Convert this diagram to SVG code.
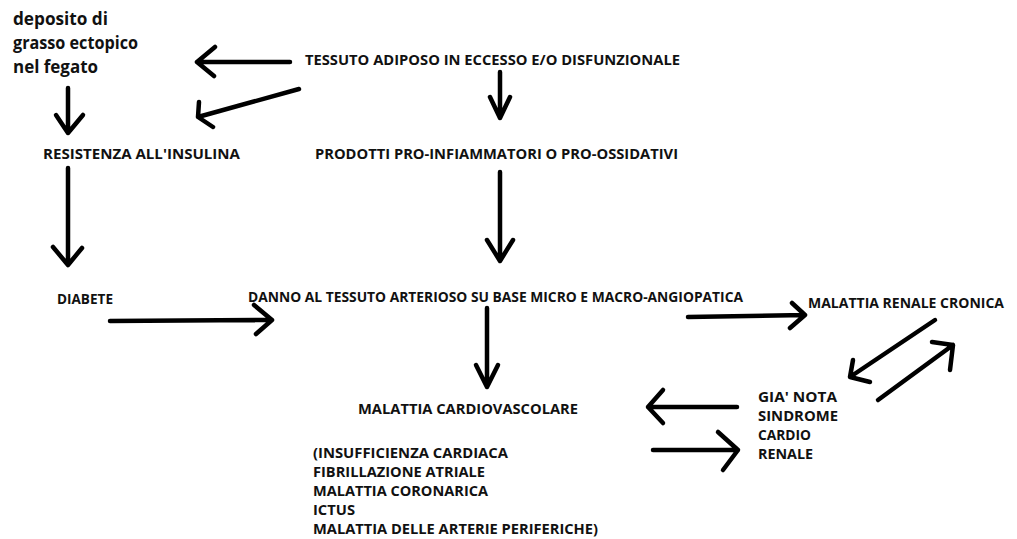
<svg xmlns="http://www.w3.org/2000/svg" width="1017" height="539" viewBox="0 0 1017 539">
<style>
.t{font-family:"Open Sans","Liberation Sans",sans-serif;font-weight:bold;font-size:15px;fill:#111}
.s{font-size:17px}
.a{fill:none;stroke:#000;stroke-width:4.5;stroke-linecap:round;stroke-linejoin:round}
</style>
<rect width="1017" height="539" fill="#fff"/>
<g id="deposito">
<text class="t s" x="13" y="25" textLength="95" lengthAdjust="spacingAndGlyphs">deposito di</text>
<text class="t s" x="13" y="49" textLength="125" lengthAdjust="spacingAndGlyphs">grasso ectopico</text>
<text class="t s" x="13" y="73" textLength="85" lengthAdjust="spacingAndGlyphs">nel fegato</text>
</g>
<g id="tessuto"><text class="t" x="305" y="65" textLength="375" lengthAdjust="spacingAndGlyphs">TESSUTO ADIPOSO IN ECCESSO E/O DISFUNZIONALE</text></g>
<g id="resistenza"><text class="t" x="43" y="159" textLength="197" lengthAdjust="spacingAndGlyphs">RESISTENZA ALL'INSULINA</text></g>
<g id="prodotti"><text class="t" x="315" y="159" textLength="363" lengthAdjust="spacingAndGlyphs">PRODOTTI PRO-INFIAMMATORI O PRO-OSSIDATIVI</text></g>
<g id="diabete"><text class="t" x="57" y="304" textLength="56" lengthAdjust="spacingAndGlyphs">DIABETE</text></g>
<g id="danno"><text class="t" x="248" y="302" textLength="495" lengthAdjust="spacingAndGlyphs">DANNO AL TESSUTO ARTERIOSO SU BASE MICRO E MACRO-ANGIOPATICA</text></g>
<g id="renale"><text class="t" x="808" y="308" textLength="196" lengthAdjust="spacingAndGlyphs">MALATTIA RENALE CRONICA</text></g>
<g id="cardiorenale">
<text class="t" x="758" y="402" textLength="79" lengthAdjust="spacingAndGlyphs">GIA' NOTA</text>
<text class="t" x="758" y="421" textLength="80" lengthAdjust="spacingAndGlyphs">SINDROME</text>
<text class="t" x="758" y="440" textLength="53" lengthAdjust="spacingAndGlyphs">CARDIO</text>
<text class="t" x="758" y="459" textLength="55" lengthAdjust="spacingAndGlyphs">RENALE</text>
</g>
<g id="cardiovascolare">
<text class="t" x="358" y="414" textLength="220" lengthAdjust="spacingAndGlyphs">MALATTIA CARDIOVASCOLARE</text>
<text class="t" x="313" y="458" textLength="195" lengthAdjust="spacingAndGlyphs">(INSUFFICIENZA CARDIACA</text>
<text class="t" x="313" y="477" textLength="172" lengthAdjust="spacingAndGlyphs">FIBRILLAZIONE ATRIALE</text>
<text class="t" x="313" y="496" textLength="175" lengthAdjust="spacingAndGlyphs">MALATTIA CORONARICA</text>
<text class="t" x="313" y="515" textLength="42" lengthAdjust="spacingAndGlyphs">ICTUS</text>
<text class="t" x="313" y="534" textLength="285" lengthAdjust="spacingAndGlyphs">MALATTIA DELLE ARTERIE PERIFERICHE)</text>
</g>
<g id="connectors" class="a">
<path class="a" d="M290,62 L197,62 M215,47 L197,62 L214,76"/>
<path class="a" d="M299,89 L198,117 M199,102 L198,117 L213,127"/>
<path class="a" d="M68,88 L68,133 M56,115 L68,133 L83,115"/>
<path class="a" d="M500,72 L500,118 M490,97 L500,118 L510,97"/>
<path class="a" d="M500,172 L500,261 M487,240 L500,261 L513,240"/>
<path class="a" d="M68,168 L68,265 M53,247 L68,265 L82,248"/>
<path class="a" d="M110,321 L272,320 M254,305 L272,320 L256,334"/>
<path class="a" d="M487,308 L487,387 M476,365 L487,387 L498,365"/>
<path class="a" d="M688,317 L805,315 M792,303 L805,315 L790,328"/>
<path class="a" d="M935,320 L850,377 M853,360 L850,377 L870,382"/>
<path class="a" d="M878,400 L953,345 M932,342 L953,345 L950,370"/>
<path class="a" d="M737,407 L648,407 M663,390 L648,407 L663,423"/>
<path class="a" d="M653,450 L738,450 M718,432 L738,450 L723,470"/>
</g>
</svg>
